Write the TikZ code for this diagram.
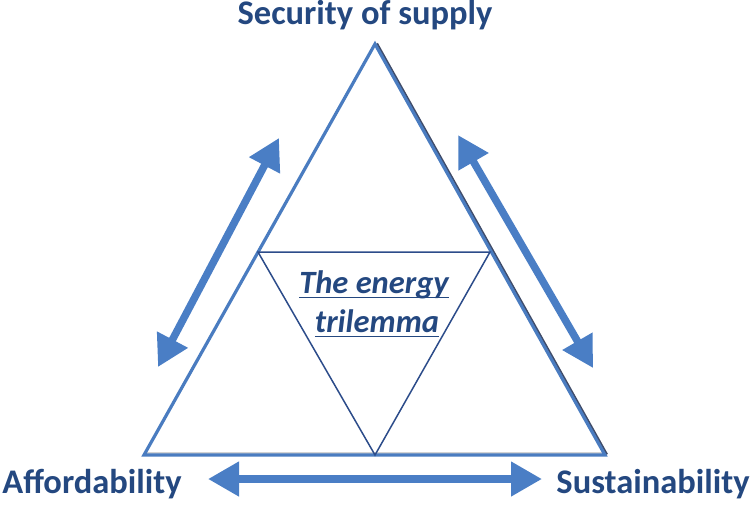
\documentclass[tikz,border=0pt]{standalone}
\usepackage{fontspec}
\setmainfont{Carlito}
\usetikzlibrary{arrows.meta}
\definecolor{txtblue}{RGB}{36,72,128}
\definecolor{arrblue}{RGB}{74,126,197}
\definecolor{triblue}{RGB}{74,124,192}
\definecolor{inblue}{RGB}{44,76,138}
\definecolor{shadow}{RGB}{30,45,80}
\tikzset{
  label/.style={text=txtblue, font=\bfseries\fontsize{34.5}{36}\selectfont, inner sep=0pt},
  center/.style={text=txtblue, font=\bfseries\itshape\fontsize{32.5}{34}\selectfont, inner sep=0pt, anchor=base},
  dblarrow/.style={draw=arrblue, line width=7.5pt, {Triangle[length=31pt,width=33pt]}-{Triangle[length=31pt,width=33pt]}},
  outer/.style={draw=triblue, line width=3.2pt, line join=miter},
  inner/.style={draw=inblue, line width=1.5pt},
  uline/.style={draw=txtblue, line width=1.8pt}
}
\begin{document}
\begin{tikzpicture}[x=1pt,y=-1pt]
\useasboundingbox (0,0) rectangle (750,504);
% vertices
\coordinate (A) at (375,44);
\coordinate (B) at (144,455);
\coordinate (C) at (605,455);
\coordinate (P) at (258,252);
\coordinate (Q) at (490,252);
\coordinate (R) at (375,455);
% shadow
\draw[shadow, line width=2.5pt, opacity=0.85] ([xshift=1.8pt,yshift=0.5pt]A) -- ([xshift=1.8pt,yshift=0.5pt]C);
\draw[gray, line width=2pt, opacity=0.35] ([yshift=2.5pt]B) -- ([yshift=2.5pt]C);
% outer triangle
\draw[outer] (A) -- (B) -- (C) -- cycle;
% inner triangle
\draw[inner] (P) -- (Q) -- (R) -- cycle;
% arrows
\coordinate (L1) at (279,138);
\coordinate (L2) at (158,367);
\coordinate (R1) at (458,135);
\coordinate (R2) at (593,368);
\coordinate (D1) at (208,479);
\coordinate (D2) at (542,479);
\draw[dblarrow] (L1) -- (L2);
\draw[dblarrow] (R1) -- (R2);
\draw[dblarrow] (D1) -- (D2);
% labels
\node[label] (sec) at (365,15) {Security of supply};
\node[label] (aff) at (92,484) {Affordability};
\node[label] (sus) at (653,484) {Sustainability};
% center text
\node[center] (t1) at (374,293) {The energy};
\node[center] (t2) at (377,332) {trilemma};
\draw[uline] ([yshift=-4.5pt]t1.base west) -- ([yshift=-4.5pt]t1.base east);
\draw[uline] ([yshift=-4.5pt]t2.base west) -- ([yshift=-4.5pt]t2.base east);
\end{tikzpicture}
\end{document}
